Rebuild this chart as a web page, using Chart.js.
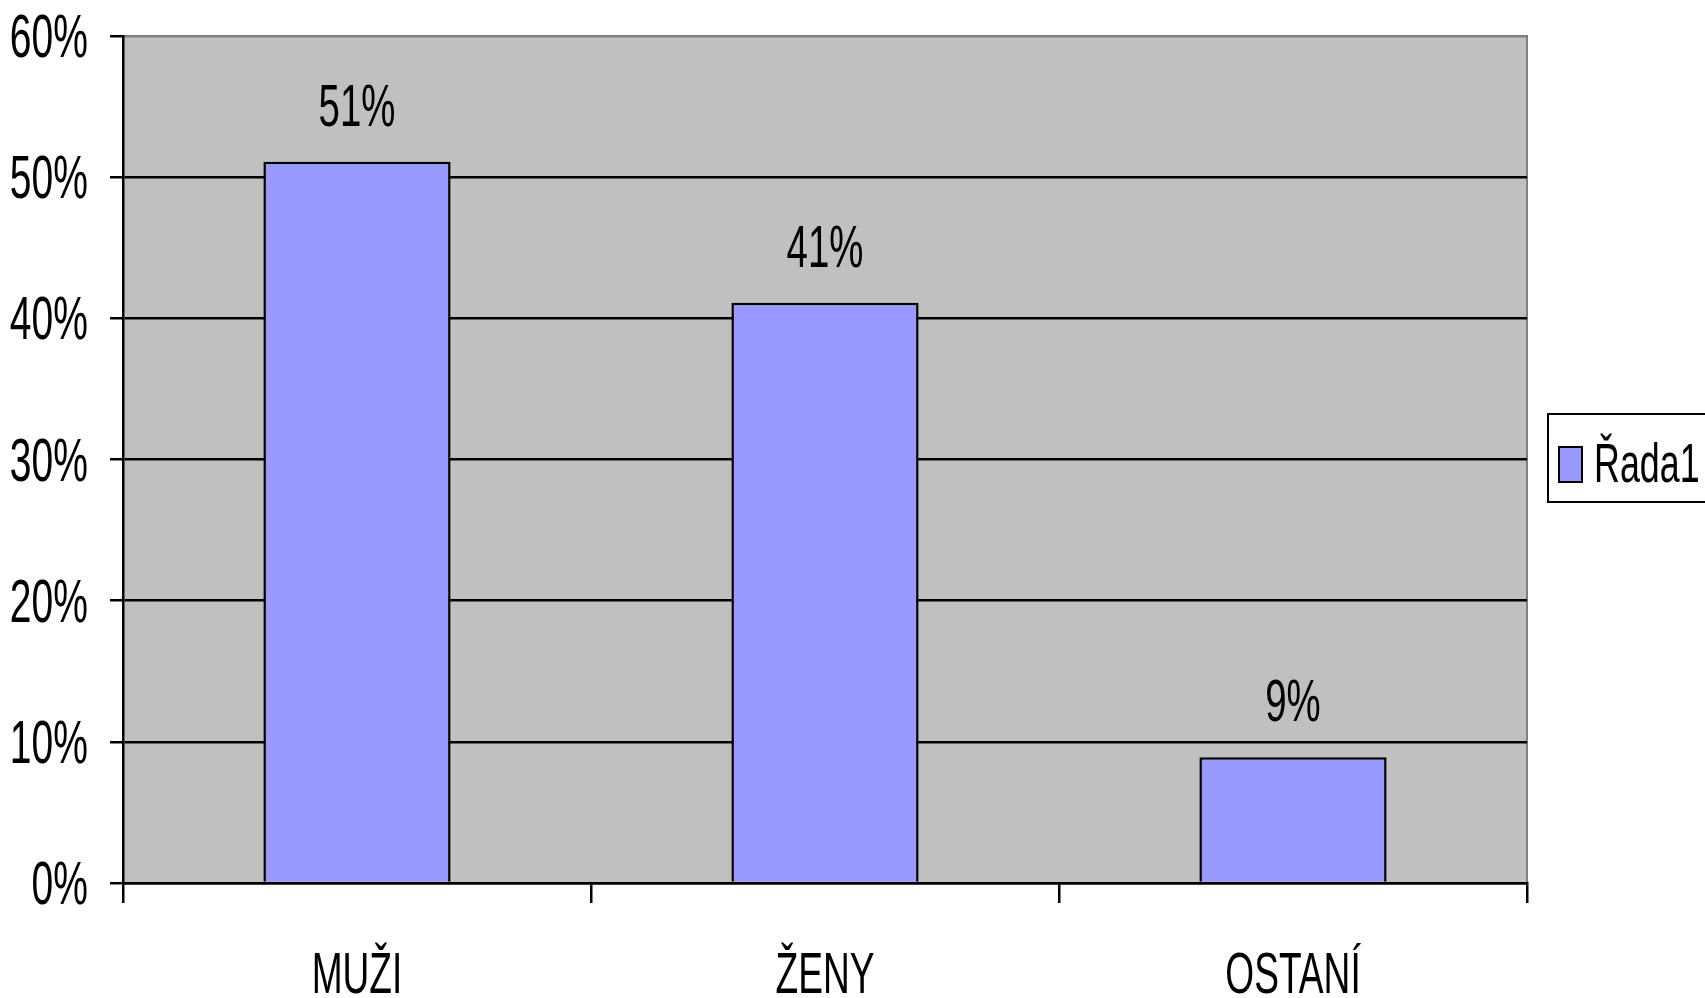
<!DOCTYPE html>
<html>
<head>
<meta charset="utf-8">
<script src="https://cdn.jsdelivr.net/npm/chart.js@4"></script>
<style>
  html, body { margin: 0; padding: 0; background: #fff; }
  #chart { display: block; }
</style>
</head>
<body>
<canvas id="chart" width="1705" height="998"></canvas>
<script>
const categories = ['MUŽI', 'ŽENY', 'OSTANÍ'];
const shares = [51.1, 41.1, 8.9];
const seriesName = 'Řada1';
const yTicks = [0, 10, 20, 30, 40, 50, 60];

const FONT = '"Liberation Sans", Arial, sans-serif';
const SQUEEZE = 0.64; // reference text is a narrow face

// draw text squeezed horizontally
function narrowText(ctx, text, x, y, align, size) {
  ctx.save();
  ctx.font = size + 'px ' + FONT;
  ctx.fillStyle = '#000';
  ctx.textBaseline = 'alphabetic';
  ctx.textAlign = align;
  ctx.translate(x, y);
  ctx.scale(SQUEEZE, 1);
  ctx.fillText(text, 0, 0);
  ctx.restore();
}

// grey plot area with grey top/right border
const plotBackground = {
  id: 'plotBackground',
  beforeDraw(chart) {
    const { ctx, chartArea: a } = chart;
    ctx.save();
    ctx.fillStyle = '#c0c0c0';
    ctx.fillRect(a.left, a.top, a.right - a.left, a.bottom - a.top);
    ctx.strokeStyle = '#808080';
    ctx.lineWidth = 2;
    ctx.beginPath();
    ctx.moveTo(a.left, a.top);
    ctx.lineTo(a.right, a.top);
    ctx.lineTo(a.right, a.bottom);
    ctx.stroke();
    ctx.restore();
  }
};

// axis labels, value labels and boxed legend
const textLayer = {
  id: 'textLayer',
  afterDraw(chart) {
    const { ctx, scales } = chart;
    const y = scales.y, x = scales.x;
    yTicks.forEach(v => {
      narrowText(ctx, v + '%', 88, y.getPixelForValue(v) + 21, 'right', 61);
    });
    categories.forEach((c, i) => {
      narrowText(ctx, c, x.getPixelForValue(i), y.bottom + 110, 'center', 58);
    });
    chart.getDatasetMeta(0).data.forEach((bar, i) => {
      narrowText(ctx, Math.round(shares[i]) + '%', bar.x, bar.y - 36, 'center', 60);
    });

    ctx.save();
    ctx.fillStyle = '#fff';
    ctx.strokeStyle = '#000';
    ctx.lineWidth = 2;
    ctx.fillRect(1548, 414, 170, 88);
    ctx.strokeRect(1548, 414, 170, 88);
    ctx.fillStyle = '#9999ff';
    ctx.fillRect(1559, 447, 23, 35);
    ctx.strokeRect(1559, 447, 23, 35);
    ctx.restore();
    narrowText(ctx, seriesName, 1594, 482, 'left', 56);
  }
};

new Chart(document.getElementById('chart'), {
  type: 'bar',
  data: {
    labels: categories,
    datasets: [{
      label: seriesName,
      data: shares,
      backgroundColor: '#9999ff',
      borderColor: '#000',
      borderWidth: 2.5,
      categoryPercentage: 0.8,
      barPercentage: 0.5
    }]
  },
  options: {
    responsive: false,
    animation: false,
    layout: { padding: { top: 36, right: 178, left: 0, bottom: 0 } },
    plugins: {
      legend: { display: false },
      tooltip: { enabled: false }
    },
    scales: {
      y: {
        min: 0,
        max: 60,
        afterFit(scale) { scale.width = 123; },
        afterBuildTicks(scale) { scale.ticks = yTicks.map(v => ({ value: v })); },
        ticks: { display: false },
        grid: {
          color: ctx => (ctx.tick && ctx.tick.value === 60) ? '#808080' : '#000',
          tickColor: '#000',
          lineWidth: 2.5,
          tickLength: 13
        },
        border: { color: '#000', width: 2.5 }
      },
      x: {
        afterFit(scale) { scale.height = 115; },
        ticks: { display: false },
        grid: {
          offset: true,
          drawOnChartArea: false,
          color: '#000',
          lineWidth: 2.5,
          tickLength: 20
        },
        border: { color: '#000', width: 2.5 }
      }
    }
  },
  plugins: [plotBackground, textLayer]
});
</script>
</body>
</html>
